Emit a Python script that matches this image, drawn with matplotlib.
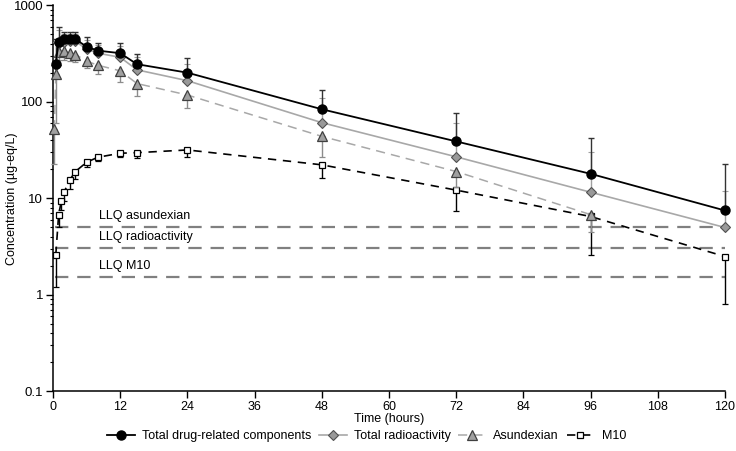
import numpy as np
import matplotlib
matplotlib.use('Agg')
import matplotlib.pyplot as plt
from matplotlib.lines import Line2D
from matplotlib.ticker import LogLocator, NullFormatter, FixedLocator


plt.rcParams['font.family'] = ['Liberation Sans', 'DejaVu Sans']
plt.rcParams['font.size'] = 8.5

# total drug-related components
t_total = [0.5, 1, 2, 3, 4, 6, 8, 12, 15, 24, 48, 72, 96, 120]
total = [250, 422, 446, 446, 446, 374, 340, 320, 246, 201, 84, 39, 18, 7.5]
total_hi = [450, 594, 535, 535, 535, 468, 412, 412, 315, 284, 133, 77, 42, 22.7]

# total radioactivity
t_radio = [0.5, 1, 2, 3, 4, 6, 8, 12, 15, 24, 48, 72, 96, 120]
radio = [240, 410, 420, 425, 425, 352, 320, 290, 215, 166, 61, 27, 11.6, 5.0]
radio_hi = [420, 560, 500, 500, 500, 440, 390, 380, 290, 250, 110, 60, 30, 12]

# asundexian
t_asu = [0.25, 0.5, 1, 2, 3, 4, 6, 8, 12, 15, 24, 48, 72, 96]
asu = [52, 195, 330, 335, 320, 310, 265, 240, 210, 155, 118, 44, 19, 6.8]
asu_lo = [23, 60, 270, 270, 265, 260, 223, 195, 162, 115, 87, 27, 13, 4.5]

# M10
t_m10 = [0.5, 1, 1.5, 2, 3, 4, 6, 8, 12, 15, 24, 48, 72, 96, 120]
m10 = [2.6, 6.7, 9.5, 11.7, 15.6, 19, 23.7, 26.7, 29.4, 29.8, 31.8, 22.3, 12.2, 6.5, 2.5]
m10_lo = [1.2, 5.0, 7.5, 9.5, 12.5, 16, 21, 24.5, 27, 26, 27, 16.3, 7.4, 2.6, 0.8]

llq_names = ['LLQ asundexian', 'LLQ radioactivity', 'LLQ M10']
llq_values = [5.1, 3.1, 1.55]


fig = plt.figure(figsize=(7.36, 4.51), dpi=100)
ax = fig.add_axes([0.072, 0.132, 0.913, 0.856])

# LLQ lines
for name, val in zip(llq_names, llq_values):
	ax.plot([0.3, 120], [val, val], color='#808080', lw=1.6,
		dashes=(6, 4), zorder=1)
	ax.text(8.2, val * 1.12, name, fontsize=9, ha='left', va='bottom')


def up_err(y, hi):
	y = np.array(y)
	return [np.zeros_like(y), np.array(hi) - y]


def down_err(y, lo):
	y = np.array(y)
	return [y - np.array(lo), np.zeros_like(y)]


styles = {
	'm10': dict(color='black', lw=1.2, dashes=(5, 4), marker='s',
		markersize=5, mfc='white', mec='black', mew=0.9),
	'asu': dict(color='#a8a8a8', lw=1.1, dashes=(6, 4), marker='^',
		markersize=6.5, mfc='#a0a0a0', mec='#404040', mew=0.9),
	'radio': dict(color='#a8a8a8', lw=1.2, marker='D', markersize=5,
		mfc='#999999', mec='#505050', mew=0.8),
	'total': dict(color='black', lw=1.3, marker='o', markersize=6.5,
		mfc='black', mec='black'),
}

containers = []
containers.append(ax.errorbar(t_m10, m10, yerr=down_err(m10, m10_lo),
	ecolor='black', elinewidth=1, capsize=2.5, zorder=3, **styles['m10']))
containers.append(ax.errorbar(t_asu, asu, yerr=down_err(asu, asu_lo),
	ecolor='#8c8c8c', elinewidth=1, capsize=2.5, zorder=4, **styles['asu']))
containers.append(ax.errorbar(t_radio, radio, yerr=up_err(radio, radio_hi),
	ecolor='#a0a0a0', elinewidth=1, capsize=2.5, zorder=5, **styles['radio']))
containers.append(ax.errorbar(t_total, total, yerr=up_err(total, total_hi),
	ecolor='#333333', elinewidth=1, capsize=2.5, zorder=6, **styles['total']))
for c in containers:
	for art in c.get_children():
		art.set_clip_on(False)

ax.set_yscale('log')
ax.set_ylim(0.1, 1000)
ax.set_xlim(0, 120)
ax.xaxis.set_major_locator(FixedLocator(np.arange(0, 121, 12)))
ax.yaxis.set_major_locator(FixedLocator([0.1, 1, 10, 100, 1000]))
ax.set_yticklabels(['0.1', '1', '10', '100', '1000'])
ax.yaxis.set_minor_locator(LogLocator(base=10, subs=np.arange(2, 10)))
ax.yaxis.set_minor_formatter(NullFormatter())
ax.tick_params(axis='both', which='major', direction='out', length=5,
	width=1, labelsize=9)
ax.tick_params(axis='x', which='major', pad=2)
ax.tick_params(axis='y', which='major', pad=2, labelsize=9.5)
ax.tick_params(axis='y', which='minor', direction='out', length=2.5, width=0.8)

for side in ['top', 'right']:
	ax.spines[side].set_visible(False)
for side in ['left', 'bottom']:
	ax.spines[side].set_linewidth(1.1)

ax.set_xlabel('Time (hours)', fontsize=9, labelpad=0)
ax.set_ylabel('Concentration (µg-eq/L)', fontsize=9)
ax.yaxis.set_label_coords(-0.052, 0.5)

handles = [
	Line2D([], [], **styles['total']),
	Line2D([], [], **styles['radio']),
	Line2D([], [], **styles['asu']),
	Line2D([], [], **styles['m10']),
]
labels = ['Total drug-related components', 'Total radioactivity',
	'Asundexian', 'M10']
fig.legend(handles, labels, loc='lower center', bbox_to_anchor=(0.498, -0.005),
	ncol=4, frameon=False, fontsize=9, handlelength=2.2, columnspacing=0.6,
	handletextpad=0.6)

plt.savefig('out.png', dpi=100)
plt.close()
